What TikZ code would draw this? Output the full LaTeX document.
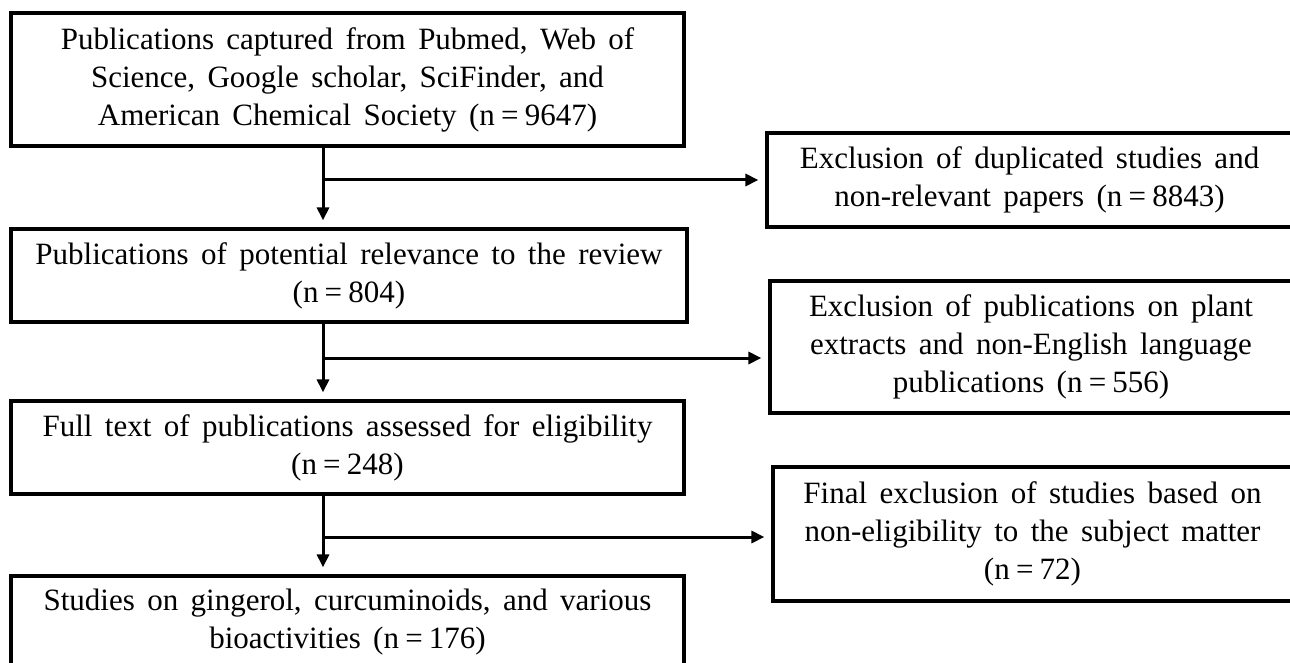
\documentclass[tikz,border=0pt]{standalone}
\usepackage{fontspec}
\setmainfont[WordSpace=1.6]{Liberation Serif}
\usetikzlibrary{arrows.meta}
\newcommand{\nsp}{\hspace{0.2em}}
\begin{document}
\begin{tikzpicture}[x=1pt,y=-1pt,
  box/.style={draw=black, line width=3.2pt, align=center, inner sep=0pt,
    font=\fontsize{31}{38}\selectfont, anchor=center},
  conn/.style={line width=3pt, -{Triangle[width=12pt,length=13pt]}, shorten >=7pt}]
\useasboundingbox (0,0) rectangle (1290,663);
\node[box, minimum width=673pt, minimum height=133pt] (b1) at (347.5,79.5)
  {Publications captured from Pubmed, Web of\\Science, Google scholar, SciFinder, and\\American Chemical Society (n\nsp=\nsp9647)};
\node[box, minimum width=676pt, minimum height=93pt] (b2) at (349,275.5)
  {Publications of potential relevance to the review\\(n\nsp=\nsp804)};
\node[box, minimum width=673pt, minimum height=93pt] (b3) at (347.5,447.5)
  {Full text of publications assessed for eligibility\\(n\nsp=\nsp248)};
\node[box, minimum width=673pt, minimum height=92pt] (b4) at (347.5,622)
  {Studies on gingerol, curcuminoids, and various\\bioactivities (n\nsp=\nsp176)};
\node[box, minimum width=525pt, minimum height=94pt] (r1) at (1029.5,180)
  {Exclusion of duplicated studies and\\non-relevant papers (n\nsp=\nsp8843)};
\node[box, minimum width=522pt, minimum height=132pt] (r2) at (1031,347)
  {Exclusion of publications on plant\\extracts and non-English language\\publications (n\nsp=\nsp556)};
\node[box, minimum width=519pt, minimum height=134pt] (r3) at (1032.5,534)
  {Final exclusion of studies based on\\non-eligibility to the subject matter\\(n\nsp=\nsp72)};
\coordinate (sp) at (323,0);
\draw[conn] (b1.south -| sp) -- (b2.north -| sp);
\draw[conn] (b2.south -| sp) -- (b3.north -| sp);
\draw[conn] (b3.south -| sp) -- (b4.north -| sp);
\draw[conn] (r1.west -| sp) -- (r1.west);
\draw[conn] (r2.west -| sp) ++(0,11) coordinate (h2) -- (h2 -| r2.west);
\draw[conn] (r3.west -| sp) ++(0,3) coordinate (h3) -- (h3 -| r3.west);
\end{tikzpicture}
\end{document}
